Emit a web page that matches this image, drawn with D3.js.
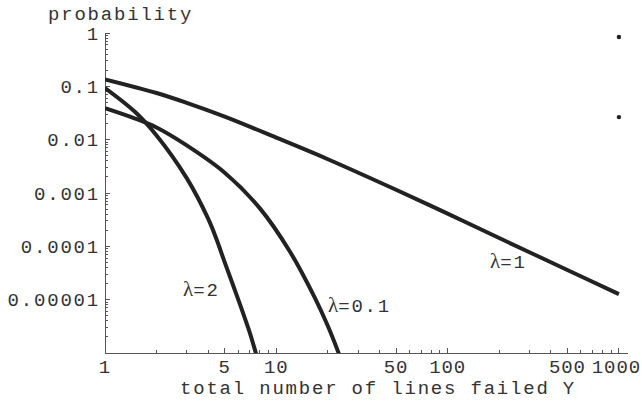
<!DOCTYPE html>
<html>
<meta charset="utf-8">
<style>
body {
  margin: 0;
  background: #fff;
}
.axis path,
.axis line {
  fill: none;
  stroke: #555;
  shape-rendering: crispEdges;
}
.axis text {
  font-family: 'Liberation Mono', 'DejaVu Sans Mono', monospace;
  font-size: 19px;
  letter-spacing: 1.8px;
  fill: #333;
}
.label {
  font-family: 'Liberation Mono', 'DejaVu Sans Mono', monospace;
  font-size: 19px;
  letter-spacing: 1.8px;
  fill: #333;
}
.curve {
  fill: none;
  stroke: #222;
  stroke-width: 4;
  stroke-linejoin: round;
}
</style>
<body>
<script src="https://cdn.jsdelivr.net/npm/d3@7/dist/d3.min.js"></script>
<script>
var w = 642;
var h = 402;

var lam1X = [1, 2, 3, 5, 10, 20, 50, 100, 200, 500, 1000];
var lam1Y = [0.135, 0.075, 0.049, 0.027, 0.0109, 0.0043, 0.00115, 0.00041, 0.000143, 0.000036, 0.0000127];

var lam2X = [1, 1.5, 2, 3, 4, 4.5, 5, 6, 7, 7.6, 8];
var lam2Y = [0.093, 0.033, 0.012, 0.0019, 0.00033, 0.00013, 0.00005, 0.00001, 0.0000024, 0.000001, 0.0000006];

var lam01X = [1, 1.5, 2, 3, 5, 8, 12, 16.8, 20, 23, 25];
var lam01Y = [0.039, 0.0249, 0.0169, 0.0078, 0.0024, 0.00052, 0.00008, 0.0000108, 0.0000032, 0.00000104, 0.0000005];

var dotX = [1000, 1000];
var dotY = [0.84, 0.0265];

var xTicks = [1, 5, 10, 50, 100, 500, 1000];
var yTicks = [1, 0.1, 0.01, 0.001, 0.0001, 0.00001];
var yTickLabels = ["1", "0.1", "0.01", "0.001", "0.0001", "0.00001"];

var curveNames = ["λ=1", "λ=2", "λ=0.1"];

var svg = d3.select("body")
            .append("svg")
            .attr("width", w)
            .attr("height", h);

var xScale = d3.scaleLog()
               .domain([1, 1130])
               .range([105, 628]);
var yScale = d3.scaleLog()
               .domain([0.000001, 1])
               .range([353, 33]);

// minor ticks for both axes
var xMinor = [];
[1, 10, 100].forEach(function(d) {
  for (var k = 2; k <= 9; k++) xMinor.push(d * k);
});
var yMinor = [];
[0.000001, 0.00001, 0.0001, 0.001, 0.01, 0.1].forEach(function(d) {
  for (var k = 2; k <= 9; k++) yMinor.push(d * k);
});

// x-axis
var xg = svg.append("g")
    .attr("class", "axis")
    .attr("transform", "translate(0," + yScale(0.000001) + ")");
xg.append("path")
    .attr("d", "M" + xScale.range()[0] + ",0H" + xScale.range()[1]);
xg.selectAll(".minor")
    .data(xMinor)
    .enter()
    .append("line")
    .attr("x1", xScale).attr("x2", xScale)
    .attr("y1", 0).attr("y2", -3);
xg.selectAll(".major")
    .data(xTicks)
    .enter()
    .append("line")
    .attr("x1", xScale).attr("x2", xScale)
    .attr("y1", 0).attr("y2", -5);
xg.selectAll("text")
    .data(xTicks)
    .enter()
    .append("text")
    .attr("x", xScale)
    .attr("y", 20)
    .style("letter-spacing", "0.9px")
    .style("text-anchor", "middle")
    .text(function(d) { return d; })
    .each(function() {
      // keep the last label inside the page
      var half = this.getComputedTextLength() / 2;
      var x = +this.getAttribute("x");
      if (x + half > w - 1) this.setAttribute("x", w - 1 - half);
    });

// y-axis
var yg = svg.append("g")
    .attr("class", "axis")
    .attr("transform", "translate(" + xScale(1) + ",0)");
yg.append("path")
    .attr("d", "M0," + yScale.range()[0] + "V" + yScale.range()[1]);
yg.selectAll(".minor")
    .data(yMinor)
    .enter()
    .append("line")
    .attr("y1", yScale).attr("y2", yScale)
    .attr("x1", 0).attr("x2", 3);
yg.selectAll(".major")
    .data(yTicks)
    .enter()
    .append("line")
    .attr("y1", yScale).attr("y2", yScale)
    .attr("x1", 0).attr("x2", 5);
yg.selectAll("text")
    .data(yTicks)
    .enter()
    .append("text")
    .attr("x", -5)
    .attr("y", yScale)
    .attr("dy", ".35em")
    .style("text-anchor", "end")
    .text(function(d, i) { return yTickLabels[i]; });

// axis titles
svg.append("text")
    .attr("class", "label")
    .attr("x", 48)
    .attr("y", 20)
    .text("probability");
svg.append("text")
    .attr("class", "label")
    .attr("x", 180)
    .attr("y", 394)
    .text("total number of lines failed Y");

// curves, clipped to the plot
svg.append("clipPath")
    .attr("id", "plot")
    .append("rect")
    .attr("x", xScale(1))
    .attr("y", yScale(1) - 10)
    .attr("width", xScale.range()[1] - xScale(1) + 10)
    .attr("height", yScale(0.000001) - yScale(1) + 10);

var line = d3.line()
    .x(function(d) { return xScale(d[0]); })
    .y(function(d) { return yScale(d[1]); })
    .curve(d3.curveCatmullRom.alpha(0.5));

var series = [d3.zip(lam1X, lam1Y), d3.zip(lam2X, lam2Y), d3.zip(lam01X, lam01Y)];

svg.append("g")
    .attr("clip-path", "url(#plot)")
    .selectAll("path")
    .data(series)
    .enter()
    .append("path")
    .attr("class", "curve")
    .attr("d", line);

// the two points at Y = 1000
svg.selectAll(".dot")
    .data(d3.zip(dotX, dotY))
    .enter()
    .append("circle")
    .attr("class", "dot")
    .attr("r", 2.2)
    .attr("cx", function(d) { return xScale(d[0]); })
    .attr("cy", function(d) { return yScale(d[1]); })
    .style("fill", "#222");

// curve labels
var labelPos = [[490, 268], [183, 296], [328, 312]];
var labels = svg.selectAll(".lam")
    .data(curveNames)
    .enter()
    .append("text")
    .attr("class", "label lam")
    .attr("x", function(d, i) { return labelPos[i][0]; })
    .attr("y", function(d, i) { return labelPos[i][1]; });
labels.append("tspan")
    .style("font-family", "'Liberation Serif', serif")
    .style("font-size", "21px")
    .style("letter-spacing", "0px")
    .text("λ");
labels.append("tspan")
    .text(function(d) { return d.slice(1); });
</script>
</body>
</html>
